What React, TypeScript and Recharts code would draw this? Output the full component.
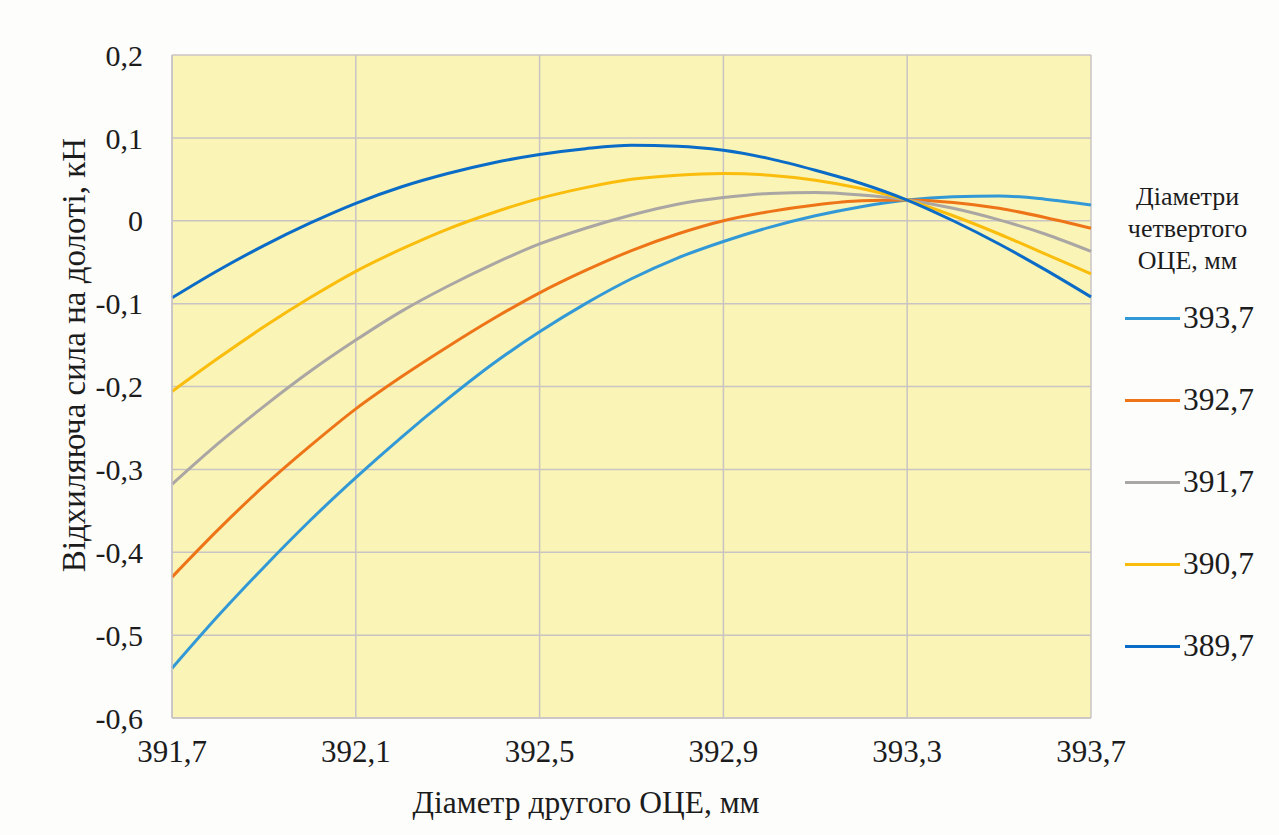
import React from 'react';
import { LineChart, Line, XAxis, YAxis, CartesianGrid, Legend } from 'recharts';

// діаметр другого ОЦЕ, мм (крок 0,1)
const diameters = [
  391.7, 391.8, 391.9, 392.0, 392.1, 392.2, 392.3, 392.4, 392.5, 392.6, 392.7,
  392.8, 392.9, 393.0, 393.1, 393.2, 393.3, 393.4, 393.5, 393.6, 393.7,
];

// відхиляюча сила, кН — по одній серії на діаметр четвертого ОЦЕ
const d3937 = [
  -0.54, -0.477, -0.418, -0.362, -0.31, -0.261, -0.215, -0.172, -0.134, -0.1, -0.07,
  -0.045, -0.025, -0.008, 0.006, 0.017, 0.025, 0.029, 0.03, 0.026, 0.019,
];
const d3927 = [
  -0.43, -0.373, -0.32, -0.272, -0.227, -0.188, -0.152, -0.118, -0.087, -0.06, -0.036,
  -0.016, 0.0, 0.011, 0.019, 0.024, 0.025, 0.022, 0.015, 0.004, -0.009,
];
const d3917 = [
  -0.318, -0.269, -0.224, -0.182, -0.144, -0.109, -0.079, -0.052, -0.028, -0.009, 0.007,
  0.02, 0.028, 0.033, 0.034, 0.031, 0.025, 0.015, 0.001, -0.016, -0.037,
];
const d3907 = [
  -0.206, -0.166, -0.128, -0.093, -0.061, -0.034, -0.01, 0.01, 0.027, 0.04, 0.05,
  0.055, 0.057, 0.055, 0.049, 0.039, 0.025, 0.006, -0.016, -0.04, -0.064,
];
const d3897 = [
  -0.093, -0.06, -0.03, -0.003, 0.021, 0.041, 0.057, 0.07, 0.08, 0.087, 0.091,
  0.09, 0.085, 0.075, 0.061, 0.045, 0.025, 0.0, -0.028, -0.059, -0.092,
];

const xTicks = [391.7, 392.1, 392.5, 392.9, 393.3, 393.7];
const yTicks = [-0.6, -0.5, -0.4, -0.3, -0.2, -0.1, 0, 0.1, 0.2];

const seriesNames = ['393,7', '392,7', '391,7', '390,7', '389,7'];
const seriesValues = [d3937, d3927, d3917, d3907, d3897];
const seriesColors = ['#3399d6', '#ee7418', '#aaa6a4', '#fbbd0c', '#0b6cc7'];

const chartData = diameters.map((x, i) => {
  const row: { [key: string]: number } = { x };
  seriesNames.forEach((name, s) => {
    row[name] = seriesValues[s][i];
  });
  return row;
});

const FONT = 'Liberation Serif';
const INK = '#1c1c1c';
const GRID = '#c9c4c4';

const fmt = (v: number) => (v === 0 ? '0' : v.toFixed(1).replace('.', ','));

const LegendBox: React.FC<any> = ({ payload }) => {
  const items = [...(payload || [])].sort(
    (a: any, b: any) => seriesNames.indexOf(a.value) - seriesNames.indexOf(b.value)
  );
  return (
    <div style={{ fontFamily: FONT, color: INK }}>
      <div style={{ textAlign: 'center', fontSize: 26, lineHeight: '32px' }}>
        Діаметри
        <br />
        четвертого
        <br />
        ОЦЕ, мм
      </div>
      {items.map((item: any) => (
        <div key={item.value} style={{ height: 82, display: 'flex', alignItems: 'center' }}>
          <div style={{ marginLeft: 25, width: 55, height: 3, background: item.color }} />
          <span style={{ marginLeft: 3, fontSize: 31.5 }}>{item.value}</span>
        </div>
      ))}
    </div>
  );
};

const App: React.FC = () => {
  return (
    <div
      style={{
        position: 'absolute',
        left: 0,
        top: 0,
        width: 1279,
        height: 835,
        background: '#fdfdfc',
        fontFamily: FONT,
      }}
    >
      <LineChart
        width={1279}
        height={835}
        data={chartData}
        margin={{ top: 55, right: 13, bottom: 0, left: 0 }}
      >
        <CartesianGrid stroke={GRID} strokeWidth={1.5} fill="#faf4b6" fillOpacity={1} />
        <XAxis
          dataKey="x"
          type="number"
          domain={[391.7, 393.7]}
          ticks={xTicks}
          tickFormatter={fmt}
          height={117}
          tickSize={0}
          tickMargin={22}
          axisLine={{ stroke: GRID, strokeWidth: 1.5 }}
          tick={{ fill: INK, fontSize: 31, fontFamily: FONT }}
          label={{
            content: () => (
              <text x={586} y={813} textAnchor="middle" fill={INK} fontSize={31.5} fontFamily={FONT}>
                Діаметр другого ОЦЕ, мм
              </text>
            ),
          }}
        />
        <YAxis
          type="number"
          domain={[-0.6, 0.2]}
          ticks={yTicks}
          tickFormatter={fmt}
          width={172}
          tickSize={0}
          tickMargin={29}
          axisLine={{ stroke: GRID, strokeWidth: 1.5 }}
          tick={{ fill: INK, fontSize: 30, fontFamily: FONT }}
          label={{
            content: () => (
              <text
                x={85}
                y={355}
                transform="rotate(-90, 85, 355)"
                textAnchor="middle"
                fill={INK}
                fontSize={33}
                fontFamily={FONT}
              >
                Відхиляюча сила на долоті, кН
              </text>
            ),
          }}
        />
        <Legend
          layout="horizontal"
          verticalAlign="middle"
          align="right"
          content={<LegendBox />}
          wrapperStyle={{ left: 1100, top: 181, width: 175 }}
        />
        {seriesNames.map((name, s) => (
          <Line
            key={name}
            type="monotone"
            dataKey={name}
            stroke={seriesColors[s]}
            strokeWidth={3}
            dot={false}
            activeDot={false}
            isAnimationActive={false}
          />
        ))}
      </LineChart>
    </div>
  );
};

export default App;
